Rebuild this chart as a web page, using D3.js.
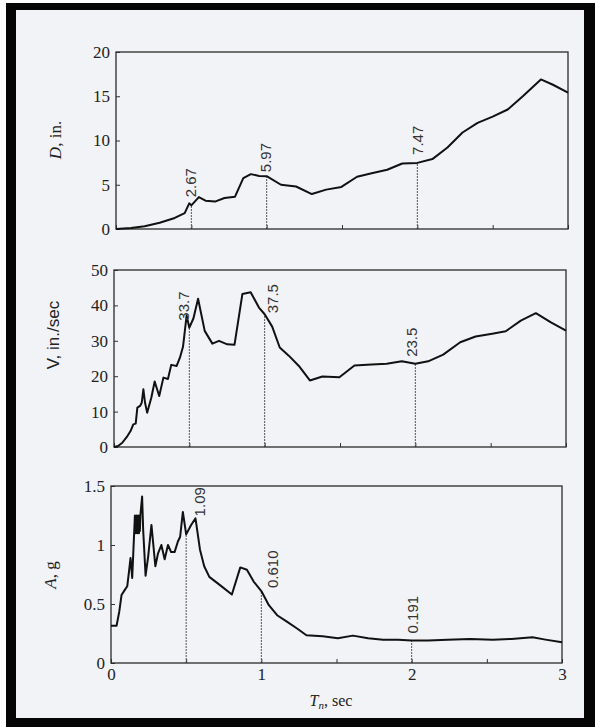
<!DOCTYPE html>
<html>
<head>
<meta charset="utf-8">
<script src="https://cdn.jsdelivr.net/npm/d3@7"></script>
<style>
body { margin: 0; background: #fff; }
</style>
</head>
<body>
<svg class="chart"></svg>
<script>
var width = 595, height = 727;

// deformation spectrum D (in.) vs period Tn (sec)
var dPeriod = [0, 0.1, 0.19, 0.29, 0.39, 0.456, 0.486, 0.5, 0.55, 0.594, 0.657, 0.72, 0.79, 0.845, 0.895, 0.95, 1.0,
  1.095, 1.195, 1.3, 1.395, 1.496, 1.6, 1.697, 1.8, 1.9, 2.0, 2.1, 2.2, 2.3, 2.4, 2.5, 2.6, 2.7, 2.82, 2.9, 3.0];
var dValue = [0, 0.1, 0.3, 0.7, 1.25, 1.8, 2.9, 2.67, 3.6, 3.2, 3.1, 3.5, 3.65, 5.75, 6.2, 6.0, 5.97,
  5.0, 4.8, 3.95, 4.45, 4.75, 5.9, 6.3, 6.7, 7.4, 7.47, 7.9, 9.2, 10.9, 12.0, 12.7, 13.5, 15, 16.9, 16.3, 15.4];

// pseudo-velocity V (in./sec)
var vPeriod = [0, 0.027, 0.055, 0.089, 0.11, 0.128, 0.144, 0.155, 0.173, 0.184, 0.195, 0.206, 0.22, 0.248, 0.27, 0.3,
  0.328, 0.358, 0.38, 0.416, 0.438, 0.458, 0.482, 0.5, 0.527, 0.558, 0.602, 0.653, 0.697, 0.752, 0.8, 0.852, 0.907,
  0.962, 1.0, 1.05, 1.1, 1.16, 1.227, 1.3, 1.383, 1.496, 1.596, 1.709, 1.81, 1.91, 2.0, 2.085, 2.185, 2.298, 2.4,
  2.51, 2.6, 2.7, 2.8, 2.9, 3.0];
var vValue = [0, 0.3, 1.2, 3.1, 4.5, 6.4, 6.6, 11.1, 11.6, 12.5, 16.3, 12.5, 9.7, 14, 18.5, 14.4,
  19.6, 19.2, 23.2, 22.9, 25.3, 28.3, 37.1, 33.7, 36.3, 41.9, 32.8, 29.2, 30, 29, 28.9, 43.2, 43.7,
  39.4, 37.5, 34, 28.1, 25.8, 22.9, 18.8, 19.9, 19.7, 23, 23.3, 23.5, 24.2, 23.5, 24.2, 26.1, 29.6, 31.2,
  32, 32.7, 35.7, 37.8, 35.2, 32.9];

// pseudo-acceleration A (g)
var aPeriod = [0, 0.037, 0.055, 0.07, 0.092, 0.108, 0.121, 0.13, 0.141, 0.159, 0.162, 0.165, 0.168, 0.171, 0.174,
  0.177, 0.18, 0.183, 0.186, 0.189, 0.192, 0.196, 0.207, 0.214, 0.23, 0.247, 0.269, 0.295, 0.313, 0.335, 0.357,
  0.379, 0.4, 0.423, 0.445, 0.46, 0.478, 0.5, 0.533, 0.562, 0.592, 0.62, 0.654, 0.725, 0.804, 0.86, 0.904, 0.949,
  1.0, 1.05, 1.105, 1.17, 1.24, 1.3, 1.408, 1.509, 1.609, 1.71, 1.81, 1.911, 2.0, 2.11, 2.238, 2.389, 2.54,
  2.665, 2.804, 2.89, 3.0];
var aValue = [0.316, 0.316, 0.435, 0.576, 0.62, 0.65, 0.79, 0.89, 0.72, 1.25, 1.1, 1.24, 1.11, 1.25, 1.1,
  1.24, 1.11, 1.25, 1.1, 1.24, 1.12, 1.26, 1.41, 1.13, 0.74, 0.9, 1.17, 0.82, 0.93, 1.0, 0.88,
  1.0, 0.94, 0.94, 1.03, 1.07, 1.28, 1.09, 1.17, 1.226, 0.96, 0.82, 0.73, 0.66, 0.58, 0.81, 0.79, 0.69,
  0.61, 0.49, 0.405, 0.35, 0.29, 0.235, 0.226, 0.21, 0.232, 0.21, 0.198, 0.198, 0.191, 0.19, 0.198, 0.204, 0.198,
  0.204, 0.218, 0.198, 0.175];

// marked periods and the values written on them
var markPeriod = [0.5, 1, 2];
var dMark = ["2.67", "5.97", "7.47"];
var vMark = ["33.7", "37.5", "23.5"];
var aMark = ["1.09", "0.610", "0.191"];

var dTicks = [0, 5, 10, 15, 20];
var vTicks = [0, 10, 20, 30, 40, 50];
var aTicks = [0, 0.5, 1, 1.5];
var tTicks = [0, 0.5, 1, 1.5, 2, 2.5, 3];

var serif = "'Liberation Serif', 'Times New Roman', serif";
var sans = "'Liberation Sans', Arial, sans-serif";

var chart = d3.select(".chart")
    .attr("width", width)
    .attr("height", height);

// scanned page look: black frame round a light sheet
chart.append("rect").attr("width", width).attr("height", height).attr("fill", "#fff");
chart.append("rect").attr("x", 6).attr("y", 3).attr("width", width - 6).attr("height", height - 3).attr("fill", "#050505");
chart.append("rect").attr("x", 16).attr("y", 10).attr("width", 568).attr("height", 708).attr("fill", "#f2f3f7");

function styleAxis(s) {
    s.select(".domain").remove();
    s.selectAll(".tick line").attr("stroke", "#333");
    s.selectAll(".tick text")
        .style("font-family", serif)
        .style("font-size", "17px")
        .attr("fill", "#222");
}

function panel(p) {
    var x = d3.scaleLinear().domain([0, 3]).range([p.left, p.right]);
    var y = d3.scaleLinear().domain([0, p.max]).range([p.bottom, p.top]);
    var g = chart.append("g");

    var yAxis = d3.axisLeft(y).tickValues(p.ticks).tickSize(-4).tickPadding(6)
        .tickFormat(function(d) { return d; });
    g.append("g")
        .attr("transform", "translate(" + p.left + ",0)")
        .call(yAxis)
        .call(styleAxis);

    var xAxis = d3.axisBottom(x).tickValues(tTicks).tickSize(-4).tickPadding(5)
        .tickFormat(function(d) { return (p.xLabels && d % 1 == 0) ? d : ""; });
    g.append("g")
        .attr("transform", "translate(0," + p.bottom + ")")
        .call(xAxis)
        .call(styleAxis);

    // dotted drop lines at the marked periods
    g.selectAll(".drop")
        .data(markPeriod)
        .enter().append("line")
        .attr("x1", function(d) { return x(d); })
        .attr("x2", function(d) { return x(d); })
        .attr("y1", y(0))
        .attr("y2", function(d, i) { return y(+p.marks[i]); })
        .attr("stroke", "#555")
        .attr("stroke-width", 1)
        .attr("stroke-dasharray", "2,1");

    g.append("rect")
        .attr("x", p.left).attr("y", p.top)
        .attr("width", p.right - p.left).attr("height", p.bottom - p.top)
        .attr("fill", "none").attr("stroke", "#2a2a2a").attr("stroke-width", 1.3);

    var line = d3.line()
        .x(function(d) { return x(d[0]); })
        .y(function(d) { return y(d[1]); });
    g.append("path")
        .datum(d3.zip(p.period, p.value))
        .attr("d", line)
        .attr("fill", "none")
        .attr("stroke", "#111")
        .attr("stroke-width", 2)
        .attr("stroke-linejoin", "round");

    g.selectAll(".mark")
        .data(p.marks)
        .enter().append("text")
        .attr("transform", function(d, i) {
            return "translate(" + (x(markPeriod[i]) + p.off[i][0]) + "," + (y(+d) - p.off[i][1]) + ") rotate(-90)";
        })
        .style("font-family", sans)
        .style("font-size", "15px")
        .attr("fill", "#333")
        .text(function(d) { return d; });

    var t = g.append("text")
        .attr("transform", "translate(" + (p.left - 55) + "," + p.titleY + ") rotate(-90)")
        .attr("text-anchor", "middle")
        .style("font-family", p.titleFont)
        .style("font-size", "17px")
        .attr("fill", "#222");
    t.append("tspan").style("font-style", p.italic ? "italic" : "normal").text(p.title[0]);
    t.append("tspan").text(p.title[1]);
}

panel({left: 116, right: 568, top: 52, bottom: 229, max: 20, ticks: dTicks,
    period: dPeriod, value: dValue, marks: dMark,
    off: [[5, 8], [4, 4], [6, 8]],
    title: ["D", ", in."], italic: true, titleFont: serif, titleY: 140});

panel({left: 114, right: 566, top: 270, bottom: 447, max: 50, ticks: vTicks,
    period: vPeriod, value: vValue, marks: vMark,
    off: [[0, 7], [13, 1], [2, 7]],
    title: ["V", ", in./sec"], italic: false, titleFont: sans, titleY: 335});

panel({left: 111, right: 562, top: 486, bottom: 663, max: 1.5, ticks: aTicks,
    period: aPeriod, value: aValue, marks: aMark, xLabels: true,
    off: [[19, 18], [17, 3], [6, 7]],
    title: ["A", ", g"], italic: true, titleFont: serif, titleY: 575});

// x axis title
var xt = chart.append("text")
    .attr("x", 331).attr("y", 706)
    .attr("text-anchor", "middle")
    .style("font-family", serif)
    .style("font-size", "16px")
    .attr("fill", "#222");
xt.append("tspan").style("font-style", "italic").text("T");
xt.append("tspan").style("font-style", "italic").style("font-size", "11px").attr("dy", 3).text("n");
xt.append("tspan").attr("dy", -3).text(", sec");
</script>
</body>
</html>
